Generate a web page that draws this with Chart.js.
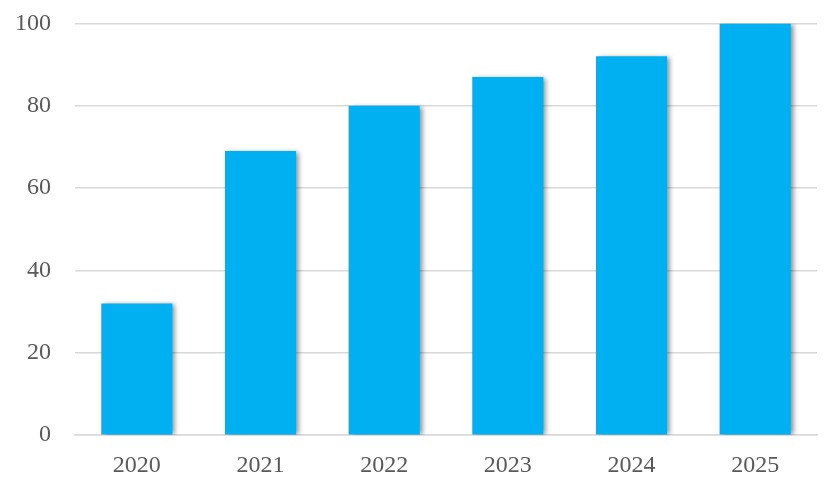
<!DOCTYPE html>
<html>
<head>
<meta charset="utf-8">
<script src="https://cdn.jsdelivr.net/npm/chart.js@4/dist/chart.umd.min.js"></script>
<style>
  html, body { margin: 0; padding: 0; background: #ffffff; overflow: hidden; }
  #wrap { width: 837px; height: 504px; position: relative; top: -15px; }
</style>
</head>
<body>
<div id="wrap"><canvas id="c"></canvas></div>
<script>
const categories = ['2020', '2021', '2022', '2023', '2024', '2025'];
const values = [32, 69, 80, 87, 92, 100];
const yTicks = [0, 20, 40, 60, 80, 100];

const shadowPlugin = {
  id: 'barShadow',
  beforeDatasetDraw(chart) {
    const ctx = chart.ctx;
    ctx.save();
    ctx.shadowColor = 'rgba(0,0,0,0.45)';
    ctx.shadowBlur = 5;
    ctx.shadowOffsetX = 3;
    ctx.shadowOffsetY = 1;
  },
  afterDatasetDraw(chart) {
    chart.ctx.restore();
  }
};

new Chart(document.getElementById('c'), {
  type: 'bar',
  data: {
    labels: categories,
    datasets: [{
      data: values,
      backgroundColor: '#00B0F0',
      borderWidth: 0,
      categoryPercentage: 1,
      barPercentage: 0.575
    }]
  },
  plugins: [shadowPlugin],
  options: {
    responsive: true,
    maintainAspectRatio: false,
    animation: false,
    layout: { padding: { top: 0, right: 20, bottom: -7, left: -9 } },
    plugins: { legend: { display: false }, tooltip: { enabled: false } },
    scales: {
      x: {
        grid: { display: false, drawTicks: false },
        border: { display: true, color: '#d9d9d9', width: 1.5 },
        ticks: { color: '#595959', font: { family: 'Liberation Serif', size: 24 }, padding: 16 }
      },
      y: {
        min: 0, max: 100,
        afterBuildTicks(axis) { axis.ticks = yTicks.map(v => ({ value: v })); },
        grid: { color: '#d9d9d9', lineWidth: 1.5, drawTicks: false },
        border: { display: false },
        ticks: { color: '#595959', font: { family: 'Liberation Serif', size: 24 }, padding: 24 }
      }
    }
  }
});
</script>
</body>
</html>
